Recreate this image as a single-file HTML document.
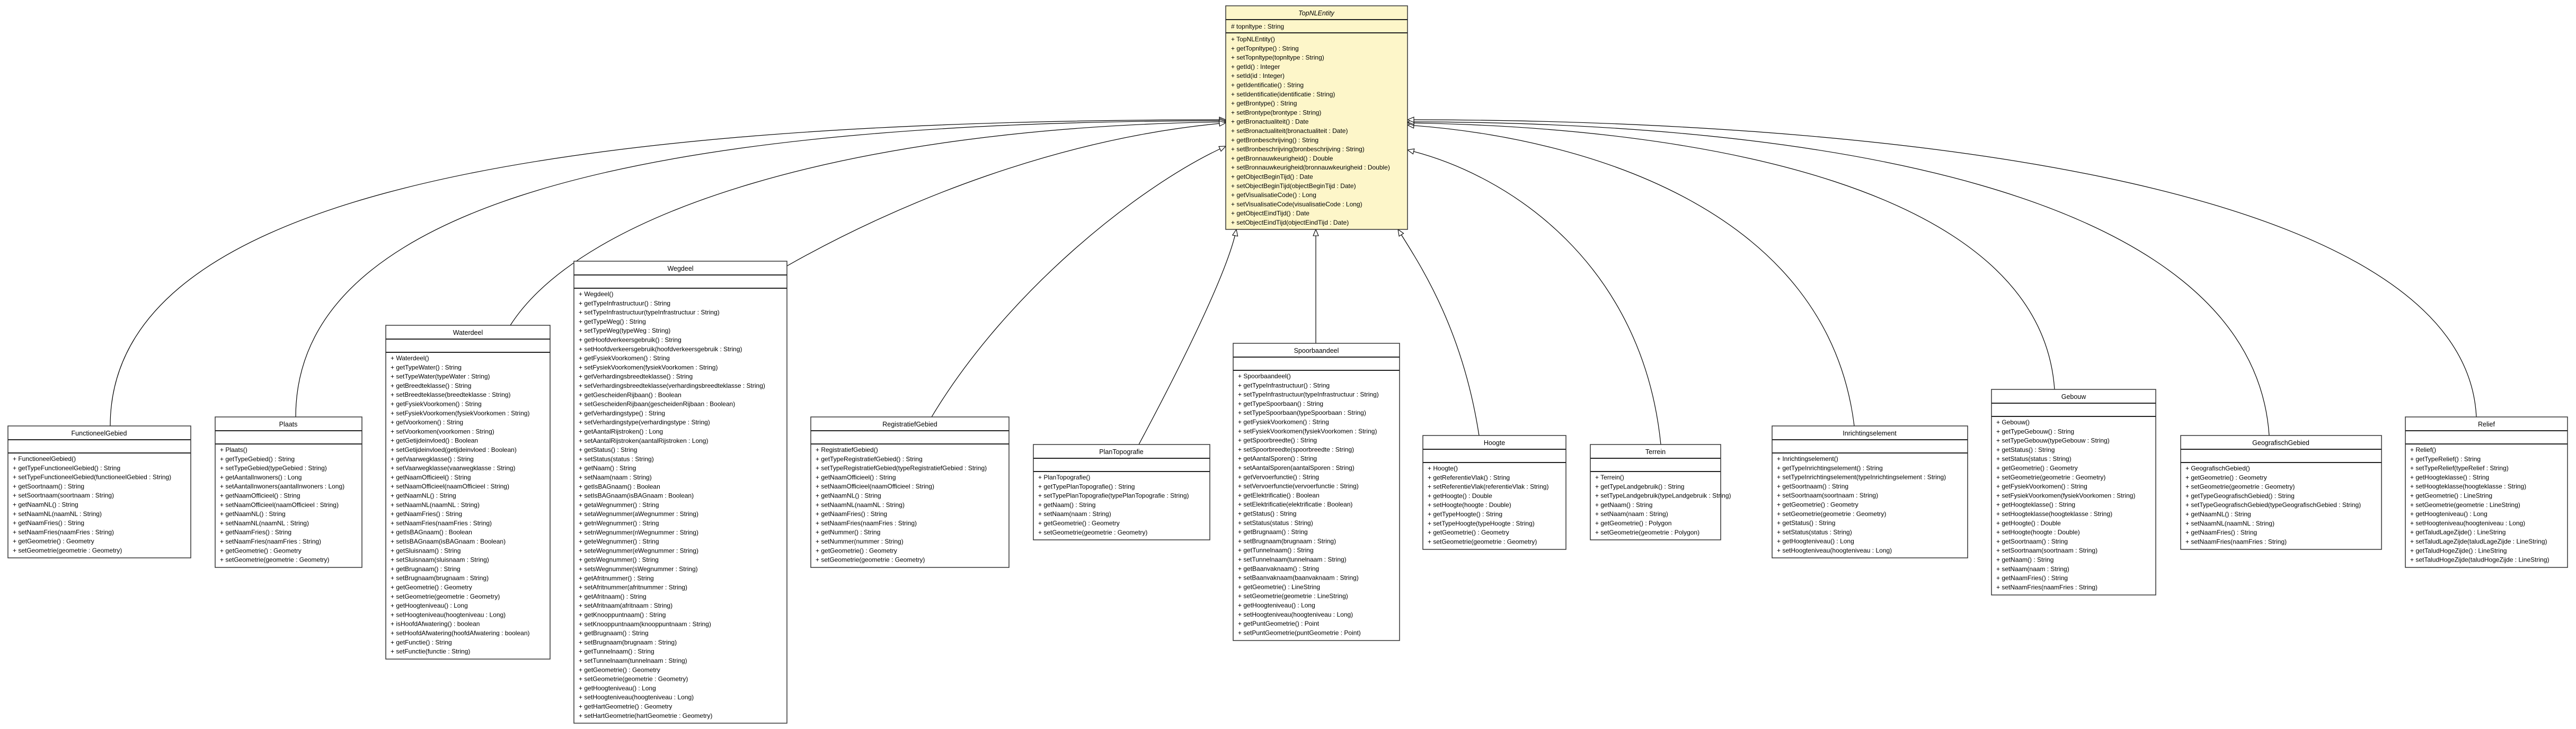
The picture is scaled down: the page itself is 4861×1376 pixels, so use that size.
<!DOCTYPE html>
<html><head><meta charset="utf-8"><style>
html,body{margin:0;padding:0;background:#fff;width:4861px;height:1376px;overflow:hidden}
svg{display:block}
text{font-family:"Liberation Sans",Arial,sans-serif;font-size:12px;fill:#000}
.t{text-anchor:middle;font-size:12.5px}
.b{fill:#fff;stroke:#333;stroke-width:1.5}
.y{fill:#fdf6c9;stroke:#333;stroke-width:1.5}
.s{stroke:#222;stroke-width:2}
.c{fill:none;stroke:#000;stroke-width:1.2}
</style></head><body>
<svg width="4861" height="1376" viewBox="0 0 4861 1376" xmlns="http://www.w3.org/2000/svg">
<defs><marker id="a" markerWidth="14" markerHeight="12" refX="13" refY="6" orient="auto" markerUnits="userSpaceOnUse"><path d="M1,1 L13,6 L1,11 z" fill="#fff" stroke="#000" stroke-width="1.1"/></marker></defs>

<!-- connectors -->
<path class="c" marker-end="url(#a)" d="M208,804 C208,400 900,226 2313,226"/>
<path class="c" marker-end="url(#a)" d="M558,787 C558,420 1100,228 2313,228"/>
<path class="c" marker-end="url(#a)" d="M963,614 C1100,400 1600,240 2313,230"/>
<path class="c" marker-end="url(#a)" d="M1485,502 C1700,380 2000,260 2313,232"/>
<path class="c" marker-end="url(#a)" d="M1758,787 C1900,550 2150,350 2313,276"/>
<path class="c" marker-end="url(#a)" d="M2149,839 C2250,650 2320,500 2333,433"/>
<path class="c" marker-end="url(#a)" d="M2483,648 L2483,433"/>
<path class="c" marker-end="url(#a)" d="M2791,822 C2760,620 2680,500 2638,433"/>
<path class="c" marker-end="url(#a)" d="M3134,839 C3100,500 2850,330 2656,283"/>
<path class="c" marker-end="url(#a)" d="M3499,804 C3450,400 3000,260 2656,236"/>
<path class="c" marker-end="url(#a)" d="M3877,735 C3850,350 3200,240 2656,232"/>
<path class="c" marker-end="url(#a)" d="M4282,822 C4250,350 3400,230 2656,230"/>
<path class="c" marker-end="url(#a)" d="M4673,787 C4650,330 3500,226 2656,226"/>

<!-- TopNLEntity -->
<rect class="y" x="2313" y="11" width="343" height="422"/>
<line class="s" x1="2313" y1="37" x2="2656" y2="37"/><line class="s" x1="2313" y1="62" x2="2656" y2="62"/>
<text class="t" x="2484" y="29" font-style="italic">TopNLEntity</text>
<text x="2323" y="54"># topnltype : String</text>
<text x="2323" y="78"><tspan x="2323">+ TopNLEntity()</tspan><tspan x="2323" dy="17.3">+ getTopnltype() : String</tspan><tspan x="2323" dy="17.3">+ setTopnltype(topnltype : String)</tspan><tspan x="2323" dy="17.3">+ getId() : Integer</tspan><tspan x="2323" dy="17.3">+ setId(id : Integer)</tspan><tspan x="2323" dy="17.3">+ getIdentificatie() : String</tspan><tspan x="2323" dy="17.3">+ setIdentificatie(identificatie : String)</tspan><tspan x="2323" dy="17.3">+ getBrontype() : String</tspan><tspan x="2323" dy="17.3">+ setBrontype(brontype : String)</tspan><tspan x="2323" dy="17.3">+ getBronactualiteit() : Date</tspan><tspan x="2323" dy="17.3">+ setBronactualiteit(bronactualiteit : Date)</tspan><tspan x="2323" dy="17.3">+ getBronbeschrijving() : String</tspan><tspan x="2323" dy="17.3">+ setBronbeschrijving(bronbeschrijving : String)</tspan><tspan x="2323" dy="17.3">+ getBronnauwkeurigheid() : Double</tspan><tspan x="2323" dy="17.3">+ setBronnauwkeurigheid(bronnauwkeurigheid : Double)</tspan><tspan x="2323" dy="17.3">+ getObjectBeginTijd() : Date</tspan><tspan x="2323" dy="17.3">+ setObjectBeginTijd(objectBeginTijd : Date)</tspan><tspan x="2323" dy="17.3">+ getVisualisatieCode() : Long</tspan><tspan x="2323" dy="17.3">+ setVisualisatieCode(visualisatieCode : Long)</tspan><tspan x="2323" dy="17.3">+ getObjectEindTijd() : Date</tspan><tspan x="2323" dy="17.3">+ setObjectEindTijd(objectEindTijd : Date)</tspan></text>

<!-- FunctioneelGebied -->
<rect class="b" x="15" y="804" width="345" height="249"/>
<line class="s" x1="15" y1="830" x2="360" y2="830"/><line class="s" x1="15" y1="855" x2="360" y2="855"/>
<text class="t" x="187" y="822">FunctioneelGebied</text>
<text y="870"><tspan x="24">+ FunctioneelGebied()</tspan><tspan x="24" dy="17.3">+ getTypeFunctioneelGebied() : String</tspan><tspan x="24" dy="17.3">+ setTypeFunctioneelGebied(functioneelGebied : String)</tspan><tspan x="24" dy="17.3">+ getSoortnaam() : String</tspan><tspan x="24" dy="17.3">+ setSoortnaam(soortnaam : String)</tspan><tspan x="24" dy="17.3">+ getNaamNL() : String</tspan><tspan x="24" dy="17.3">+ setNaamNL(naamNL : String)</tspan><tspan x="24" dy="17.3">+ getNaamFries() : String</tspan><tspan x="24" dy="17.3">+ setNaamFries(naamFries : String)</tspan><tspan x="24" dy="17.3">+ getGeometrie() : Geometry</tspan><tspan x="24" dy="17.3">+ setGeometrie(geometrie : Geometry)</tspan></text>

<!-- Plaats -->
<rect class="b" x="406" y="787" width="277" height="284"/>
<line class="s" x1="406" y1="813" x2="683" y2="813"/><line class="s" x1="406" y1="838" x2="683" y2="838"/>
<text class="t" x="544" y="805">Plaats</text>
<text y="853"><tspan x="415">+ Plaats()</tspan><tspan x="415" dy="17.3">+ getTypeGebied() : String</tspan><tspan x="415" dy="17.3">+ setTypeGebied(typeGebied : String)</tspan><tspan x="415" dy="17.3">+ getAantalInwoners() : Long</tspan><tspan x="415" dy="17.3">+ setAantalInwoners(aantalInwoners : Long)</tspan><tspan x="415" dy="17.3">+ getNaamOfficieel() : String</tspan><tspan x="415" dy="17.3">+ setNaamOfficieel(naamOfficieel : String)</tspan><tspan x="415" dy="17.3">+ getNaamNL() : String</tspan><tspan x="415" dy="17.3">+ setNaamNL(naamNL : String)</tspan><tspan x="415" dy="17.3">+ getNaamFries() : String</tspan><tspan x="415" dy="17.3">+ setNaamFries(naamFries : String)</tspan><tspan x="415" dy="17.3">+ getGeometrie() : Geometry</tspan><tspan x="415" dy="17.3">+ setGeometrie(geometrie : Geometry)</tspan></text>

<!-- Waterdeel -->
<rect class="b" x="728" y="614" width="310" height="630"/>
<line class="s" x1="728" y1="640" x2="1038" y2="640"/><line class="s" x1="728" y1="665" x2="1038" y2="665"/>
<text class="t" x="883" y="632">Waterdeel</text>
<text y="680"><tspan x="737">+ Waterdeel()</tspan><tspan x="737" dy="17.3">+ getTypeWater() : String</tspan><tspan x="737" dy="17.3">+ setTypeWater(typeWater : String)</tspan><tspan x="737" dy="17.3">+ getBreedteklasse() : String</tspan><tspan x="737" dy="17.3">+ setBreedteklasse(breedteklasse : String)</tspan><tspan x="737" dy="17.3">+ getFysiekVoorkomen() : String</tspan><tspan x="737" dy="17.3">+ setFysiekVoorkomen(fysiekVoorkomen : String)</tspan><tspan x="737" dy="17.3">+ getVoorkomen() : String</tspan><tspan x="737" dy="17.3">+ setVoorkomen(voorkomen : String)</tspan><tspan x="737" dy="17.3">+ getGetijdeinvloed() : Boolean</tspan><tspan x="737" dy="17.3">+ setGetijdeinvloed(getijdeinvloed : Boolean)</tspan><tspan x="737" dy="17.3">+ getVaarwegklasse() : String</tspan><tspan x="737" dy="17.3">+ setVaarwegklasse(vaarwegklasse : String)</tspan><tspan x="737" dy="17.3">+ getNaamOfficieel() : String</tspan><tspan x="737" dy="17.3">+ setNaamOfficieel(naamOfficieel : String)</tspan><tspan x="737" dy="17.3">+ getNaamNL() : String</tspan><tspan x="737" dy="17.3">+ setNaamNL(naamNL : String)</tspan><tspan x="737" dy="17.3">+ getNaamFries() : String</tspan><tspan x="737" dy="17.3">+ setNaamFries(naamFries : String)</tspan><tspan x="737" dy="17.3">+ getIsBAGnaam() : Boolean</tspan><tspan x="737" dy="17.3">+ setIsBAGnaam(isBAGnaam : Boolean)</tspan><tspan x="737" dy="17.3">+ getSluisnaam() : String</tspan><tspan x="737" dy="17.3">+ setSluisnaam(sluisnaam : String)</tspan><tspan x="737" dy="17.3">+ getBrugnaam() : String</tspan><tspan x="737" dy="17.3">+ setBrugnaam(brugnaam : String)</tspan><tspan x="737" dy="17.3">+ getGeometrie() : Geometry</tspan><tspan x="737" dy="17.3">+ setGeometrie(geometrie : Geometry)</tspan><tspan x="737" dy="17.3">+ getHoogteniveau() : Long</tspan><tspan x="737" dy="17.3">+ setHoogteniveau(hoogteniveau : Long)</tspan><tspan x="737" dy="17.3">+ isHoofdAfwatering() : boolean</tspan><tspan x="737" dy="17.3">+ setHoofdAfwatering(hoofdAfwatering : boolean)</tspan><tspan x="737" dy="17.3">+ getFunctie() : String</tspan><tspan x="737" dy="17.3">+ setFunctie(functie : String)</tspan></text>

<!-- Wegdeel -->
<rect class="b" x="1083" y="493" width="402" height="872"/>
<line class="s" x1="1083" y1="519" x2="1485" y2="519"/><line class="s" x1="1083" y1="544" x2="1485" y2="544"/>
<text class="t" x="1284" y="511">Wegdeel</text>
<text y="559"><tspan x="1092">+ Wegdeel()</tspan><tspan x="1092" dy="17.3">+ getTypeInfrastructuur() : String</tspan><tspan x="1092" dy="17.3">+ setTypeInfrastructuur(typeInfrastructuur : String)</tspan><tspan x="1092" dy="17.3">+ getTypeWeg() : String</tspan><tspan x="1092" dy="17.3">+ setTypeWeg(typeWeg : String)</tspan><tspan x="1092" dy="17.3">+ getHoofdverkeersgebruik() : String</tspan><tspan x="1092" dy="17.3">+ setHoofdverkeersgebruik(hoofdverkeersgebruik : String)</tspan><tspan x="1092" dy="17.3">+ getFysiekVoorkomen() : String</tspan><tspan x="1092" dy="17.3">+ setFysiekVoorkomen(fysiekVoorkomen : String)</tspan><tspan x="1092" dy="17.3">+ getVerhardingsbreedteklasse() : String</tspan><tspan x="1092" dy="17.3">+ setVerhardingsbreedteklasse(verhardingsbreedteklasse : String)</tspan><tspan x="1092" dy="17.3">+ getGescheidenRijbaan() : Boolean</tspan><tspan x="1092" dy="17.3">+ setGescheidenRijbaan(gescheidenRijbaan : Boolean)</tspan><tspan x="1092" dy="17.3">+ getVerhardingstype() : String</tspan><tspan x="1092" dy="17.3">+ setVerhardingstype(verhardingstype : String)</tspan><tspan x="1092" dy="17.3">+ getAantalRijstroken() : Long</tspan><tspan x="1092" dy="17.3">+ setAantalRijstroken(aantalRijstroken : Long)</tspan><tspan x="1092" dy="17.3">+ getStatus() : String</tspan><tspan x="1092" dy="17.3">+ setStatus(status : String)</tspan><tspan x="1092" dy="17.3">+ getNaam() : String</tspan><tspan x="1092" dy="17.3">+ setNaam(naam : String)</tspan><tspan x="1092" dy="17.3">+ getIsBAGnaam() : Boolean</tspan><tspan x="1092" dy="17.3">+ setIsBAGnaam(isBAGnaam : Boolean)</tspan><tspan x="1092" dy="17.3">+ getaWegnummer() : String</tspan><tspan x="1092" dy="17.3">+ setaWegnummer(aWegnummer : String)</tspan><tspan x="1092" dy="17.3">+ getnWegnummer() : String</tspan><tspan x="1092" dy="17.3">+ setnWegnummer(nWegnummer : String)</tspan><tspan x="1092" dy="17.3">+ geteWegnummer() : String</tspan><tspan x="1092" dy="17.3">+ seteWegnummer(eWegnummer : String)</tspan><tspan x="1092" dy="17.3">+ getsWegnummer() : String</tspan><tspan x="1092" dy="17.3">+ setsWegnummer(sWegnummer : String)</tspan><tspan x="1092" dy="17.3">+ getAfritnummer() : String</tspan><tspan x="1092" dy="17.3">+ setAfritnummer(afritnummer : String)</tspan><tspan x="1092" dy="17.3">+ getAfritnaam() : String</tspan><tspan x="1092" dy="17.3">+ setAfritnaam(afritnaam : String)</tspan><tspan x="1092" dy="17.3">+ getKnooppuntnaam() : String</tspan><tspan x="1092" dy="17.3">+ setKnooppuntnaam(knooppuntnaam : String)</tspan><tspan x="1092" dy="17.3">+ getBrugnaam() : String</tspan><tspan x="1092" dy="17.3">+ setBrugnaam(brugnaam : String)</tspan><tspan x="1092" dy="17.3">+ getTunnelnaam() : String</tspan><tspan x="1092" dy="17.3">+ setTunnelnaam(tunnelnaam : String)</tspan><tspan x="1092" dy="17.3">+ getGeometrie() : Geometry</tspan><tspan x="1092" dy="17.3">+ setGeometrie(geometrie : Geometry)</tspan><tspan x="1092" dy="17.3">+ getHoogteniveau() : Long</tspan><tspan x="1092" dy="17.3">+ setHoogteniveau(hoogteniveau : Long)</tspan><tspan x="1092" dy="17.3">+ getHartGeometrie() : Geometry</tspan><tspan x="1092" dy="17.3">+ setHartGeometrie(hartGeometrie : Geometry)</tspan></text>

<!-- RegistratiefGebied -->
<rect class="b" x="1530" y="787" width="374" height="284"/>
<line class="s" x1="1530" y1="813" x2="1904" y2="813"/><line class="s" x1="1530" y1="838" x2="1904" y2="838"/>
<text class="t" x="1717" y="805">RegistratiefGebied</text>
<text y="853"><tspan x="1539">+ RegistratiefGebied()</tspan><tspan x="1539" dy="17.3">+ getTypeRegistratiefGebied() : String</tspan><tspan x="1539" dy="17.3">+ setTypeRegistratiefGebied(typeRegistratiefGebied : String)</tspan><tspan x="1539" dy="17.3">+ getNaamOfficieel() : String</tspan><tspan x="1539" dy="17.3">+ setNaamOfficieel(naamOfficieel : String)</tspan><tspan x="1539" dy="17.3">+ getNaamNL() : String</tspan><tspan x="1539" dy="17.3">+ setNaamNL(naamNL : String)</tspan><tspan x="1539" dy="17.3">+ getNaamFries() : String</tspan><tspan x="1539" dy="17.3">+ setNaamFries(naamFries : String)</tspan><tspan x="1539" dy="17.3">+ getNummer() : String</tspan><tspan x="1539" dy="17.3">+ setNummer(nummer : String)</tspan><tspan x="1539" dy="17.3">+ getGeometrie() : Geometry</tspan><tspan x="1539" dy="17.3">+ setGeometrie(geometrie : Geometry)</tspan></text>

<!-- PlanTopografie -->
<rect class="b" x="1950" y="839" width="333" height="180"/>
<line class="s" x1="1950" y1="865" x2="2283" y2="865"/><line class="s" x1="1950" y1="890" x2="2283" y2="890"/>
<text class="t" x="2116" y="857">PlanTopografie</text>
<text y="905"><tspan x="1959">+ PlanTopografie()</tspan><tspan x="1959" dy="17.3">+ getTypePlanTopografie() : String</tspan><tspan x="1959" dy="17.3">+ setTypePlanTopografie(typePlanTopografie : String)</tspan><tspan x="1959" dy="17.3">+ getNaam() : String</tspan><tspan x="1959" dy="17.3">+ setNaam(naam : String)</tspan><tspan x="1959" dy="17.3">+ getGeometrie() : Geometry</tspan><tspan x="1959" dy="17.3">+ setGeometrie(geometrie : Geometry)</tspan></text>

<!-- Spoorbaandeel -->
<rect class="b" x="2327" y="648" width="314" height="561"/>
<line class="s" x1="2327" y1="674" x2="2641" y2="674"/><line class="s" x1="2327" y1="699" x2="2641" y2="699"/>
<text class="t" x="2484" y="666">Spoorbaandeel</text>
<text y="714"><tspan x="2336">+ Spoorbaandeel()</tspan><tspan x="2336" dy="17.3">+ getTypeInfrastructuur() : String</tspan><tspan x="2336" dy="17.3">+ setTypeInfrastructuur(typeInfrastructuur : String)</tspan><tspan x="2336" dy="17.3">+ getTypeSpoorbaan() : String</tspan><tspan x="2336" dy="17.3">+ setTypeSpoorbaan(typeSpoorbaan : String)</tspan><tspan x="2336" dy="17.3">+ getFysiekVoorkomen() : String</tspan><tspan x="2336" dy="17.3">+ setFysiekVoorkomen(fysiekVoorkomen : String)</tspan><tspan x="2336" dy="17.3">+ getSpoorbreedte() : String</tspan><tspan x="2336" dy="17.3">+ setSpoorbreedte(spoorbreedte : String)</tspan><tspan x="2336" dy="17.3">+ getAantalSporen() : String</tspan><tspan x="2336" dy="17.3">+ setAantalSporen(aantalSporen : String)</tspan><tspan x="2336" dy="17.3">+ getVervoerfunctie() : String</tspan><tspan x="2336" dy="17.3">+ setVervoerfunctie(vervoerfunctie : String)</tspan><tspan x="2336" dy="17.3">+ getElektrificatie() : Boolean</tspan><tspan x="2336" dy="17.3">+ setElektrificatie(elektrificatie : Boolean)</tspan><tspan x="2336" dy="17.3">+ getStatus() : String</tspan><tspan x="2336" dy="17.3">+ setStatus(status : String)</tspan><tspan x="2336" dy="17.3">+ getBrugnaam() : String</tspan><tspan x="2336" dy="17.3">+ setBrugnaam(brugnaam : String)</tspan><tspan x="2336" dy="17.3">+ getTunnelnaam() : String</tspan><tspan x="2336" dy="17.3">+ setTunnelnaam(tunnelnaam : String)</tspan><tspan x="2336" dy="17.3">+ getBaanvaknaam() : String</tspan><tspan x="2336" dy="17.3">+ setBaanvaknaam(baanvaknaam : String)</tspan><tspan x="2336" dy="17.3">+ getGeometrie() : LineString</tspan><tspan x="2336" dy="17.3">+ setGeometrie(geometrie : LineString)</tspan><tspan x="2336" dy="17.3">+ getHoogteniveau() : Long</tspan><tspan x="2336" dy="17.3">+ setHoogteniveau(hoogteniveau : Long)</tspan><tspan x="2336" dy="17.3">+ getPuntGeometrie() : Point</tspan><tspan x="2336" dy="17.3">+ setPuntGeometrie(puntGeometrie : Point)</tspan></text>

<!-- Hoogte -->
<rect class="b" x="2685" y="822" width="270" height="215"/>
<line class="s" x1="2685" y1="848" x2="2955" y2="848"/><line class="s" x1="2685" y1="873" x2="2955" y2="873"/>
<text class="t" x="2820" y="840">Hoogte</text>
<text y="888"><tspan x="2694">+ Hoogte()</tspan><tspan x="2694" dy="17.3">+ getReferentieVlak() : String</tspan><tspan x="2694" dy="17.3">+ setReferentieVlak(referentieVlak : String)</tspan><tspan x="2694" dy="17.3">+ getHoogte() : Double</tspan><tspan x="2694" dy="17.3">+ setHoogte(hoogte : Double)</tspan><tspan x="2694" dy="17.3">+ getTypeHoogte() : String</tspan><tspan x="2694" dy="17.3">+ setTypeHoogte(typeHoogte : String)</tspan><tspan x="2694" dy="17.3">+ getGeometrie() : Geometry</tspan><tspan x="2694" dy="17.3">+ setGeometrie(geometrie : Geometry)</tspan></text>

<!-- Terrein -->
<rect class="b" x="3001" y="839" width="246" height="180"/>
<line class="s" x1="3001" y1="865" x2="3247" y2="865"/><line class="s" x1="3001" y1="890" x2="3247" y2="890"/>
<text class="t" x="3124" y="857">Terrein</text>
<text y="905"><tspan x="3010">+ Terrein()</tspan><tspan x="3010" dy="17.3">+ getTypeLandgebruik() : String</tspan><tspan x="3010" dy="17.3">+ setTypeLandgebruik(typeLandgebruik : String)</tspan><tspan x="3010" dy="17.3">+ getNaam() : String</tspan><tspan x="3010" dy="17.3">+ setNaam(naam : String)</tspan><tspan x="3010" dy="17.3">+ getGeometrie() : Polygon</tspan><tspan x="3010" dy="17.3">+ setGeometrie(geometrie : Polygon)</tspan></text>

<!-- Inrichtingselement -->
<rect class="b" x="3344" y="804" width="369" height="249"/>
<line class="s" x1="3344" y1="830" x2="3713" y2="830"/><line class="s" x1="3344" y1="855" x2="3713" y2="855"/>
<text class="t" x="3528" y="822">Inrichtingselement</text>
<text y="870"><tspan x="3353">+ Inrichtingselement()</tspan><tspan x="3353" dy="17.3">+ getTypeInrichtingselement() : String</tspan><tspan x="3353" dy="17.3">+ setTypeInrichtingselement(typeInrichtingselement : String)</tspan><tspan x="3353" dy="17.3">+ getSoortnaam() : String</tspan><tspan x="3353" dy="17.3">+ setSoortnaam(soortnaam : String)</tspan><tspan x="3353" dy="17.3">+ getGeometrie() : Geometry</tspan><tspan x="3353" dy="17.3">+ setGeometrie(geometrie : Geometry)</tspan><tspan x="3353" dy="17.3">+ getStatus() : String</tspan><tspan x="3353" dy="17.3">+ setStatus(status : String)</tspan><tspan x="3353" dy="17.3">+ getHoogteniveau() : Long</tspan><tspan x="3353" dy="17.3">+ setHoogteniveau(hoogteniveau : Long)</tspan></text>

<!-- Gebouw -->
<rect class="b" x="3758" y="735" width="310" height="388"/>
<line class="s" x1="3758" y1="761" x2="4068" y2="761"/><line class="s" x1="3758" y1="786" x2="4068" y2="786"/>
<text class="t" x="3913" y="753">Gebouw</text>
<text y="801"><tspan x="3767">+ Gebouw()</tspan><tspan x="3767" dy="17.3">+ getTypeGebouw() : String</tspan><tspan x="3767" dy="17.3">+ setTypeGebouw(typeGebouw : String)</tspan><tspan x="3767" dy="17.3">+ getStatus() : String</tspan><tspan x="3767" dy="17.3">+ setStatus(status : String)</tspan><tspan x="3767" dy="17.3">+ getGeometrie() : Geometry</tspan><tspan x="3767" dy="17.3">+ setGeometrie(geometrie : Geometry)</tspan><tspan x="3767" dy="17.3">+ getFysiekVoorkomen() : String</tspan><tspan x="3767" dy="17.3">+ setFysiekVoorkomen(fysiekVoorkomen : String)</tspan><tspan x="3767" dy="17.3">+ getHoogteklasse() : String</tspan><tspan x="3767" dy="17.3">+ setHoogteklasse(hoogteklasse : String)</tspan><tspan x="3767" dy="17.3">+ getHoogte() : Double</tspan><tspan x="3767" dy="17.3">+ setHoogte(hoogte : Double)</tspan><tspan x="3767" dy="17.3">+ getSoortnaam() : String</tspan><tspan x="3767" dy="17.3">+ setSoortnaam(soortnaam : String)</tspan><tspan x="3767" dy="17.3">+ getNaam() : String</tspan><tspan x="3767" dy="17.3">+ setNaam(naam : String)</tspan><tspan x="3767" dy="17.3">+ getNaamFries() : String</tspan><tspan x="3767" dy="17.3">+ setNaamFries(naamFries : String)</tspan></text>

<!-- GeografischGebied -->
<rect class="b" x="4115" y="822" width="379" height="215"/>
<line class="s" x1="4115" y1="848" x2="4494" y2="848"/><line class="s" x1="4115" y1="873" x2="4494" y2="873"/>
<text class="t" x="4304" y="840">GeografischGebied</text>
<text y="888"><tspan x="4124">+ GeografischGebied()</tspan><tspan x="4124" dy="17.3">+ getGeometrie() : Geometry</tspan><tspan x="4124" dy="17.3">+ setGeometrie(geometrie : Geometry)</tspan><tspan x="4124" dy="17.3">+ getTypeGeografischGebied() : String</tspan><tspan x="4124" dy="17.3">+ setTypeGeografischGebied(typeGeografischGebied : String)</tspan><tspan x="4124" dy="17.3">+ getNaamNL() : String</tspan><tspan x="4124" dy="17.3">+ setNaamNL(naamNL : String)</tspan><tspan x="4124" dy="17.3">+ getNaamFries() : String</tspan><tspan x="4124" dy="17.3">+ setNaamFries(naamFries : String)</tspan></text>

<!-- Relief -->
<rect class="b" x="4539" y="787" width="306" height="284"/>
<line class="s" x1="4539" y1="813" x2="4845" y2="813"/><line class="s" x1="4539" y1="838" x2="4845" y2="838"/>
<text class="t" x="4692" y="805">Relief</text>
<text y="853"><tspan x="4548">+ Relief()</tspan><tspan x="4548" dy="17.3">+ getTypeRelief() : String</tspan><tspan x="4548" dy="17.3">+ setTypeRelief(typeRelief : String)</tspan><tspan x="4548" dy="17.3">+ getHoogteklasse() : String</tspan><tspan x="4548" dy="17.3">+ setHoogteklasse(hoogteklasse : String)</tspan><tspan x="4548" dy="17.3">+ getGeometrie() : LineString</tspan><tspan x="4548" dy="17.3">+ setGeometrie(geometrie : LineString)</tspan><tspan x="4548" dy="17.3">+ getHoogteniveau() : Long</tspan><tspan x="4548" dy="17.3">+ setHoogteniveau(hoogteniveau : Long)</tspan><tspan x="4548" dy="17.3">+ getTaludLageZijde() : LineString</tspan><tspan x="4548" dy="17.3">+ setTaludLageZijde(taludLageZijde : LineString)</tspan><tspan x="4548" dy="17.3">+ getTaludHogeZijde() : LineString</tspan><tspan x="4548" dy="17.3">+ setTaludHogeZijde(taludHogeZijde : LineString)</tspan></text>
</svg>
</body></html>
